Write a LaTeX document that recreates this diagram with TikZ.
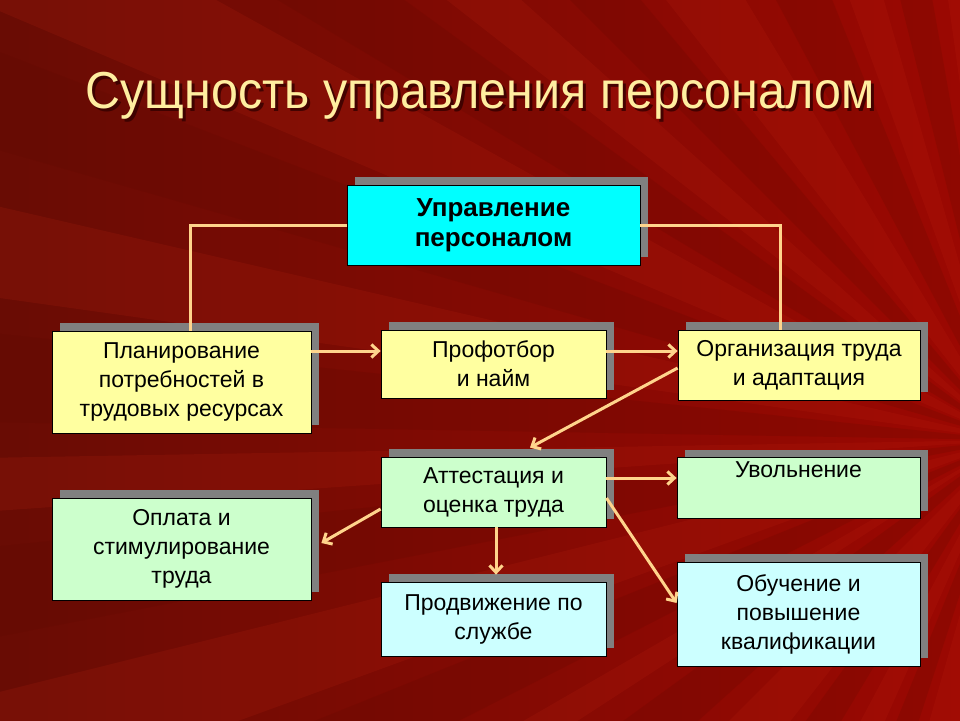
\documentclass[tikz,border=0pt]{standalone}
\usepackage{fontspec}
\setmainfont{Liberation Sans}
\newfontfamily\titlefont[FakeStretch=0.93]{Liberation Sans}
\usetikzlibrary{shadows,arrows.meta}

\definecolor{bgleft}{RGB}{105,12,4}
\definecolor{bgright}{RGB}{155,8,2}
\definecolor{raylight}{RGB}{200,40,20}
\definecolor{raydark}{RGB}{90,8,0}
\definecolor{titlecol}{RGB}{255,238,160}
\definecolor{headcol}{RGB}{0,255,255}
\definecolor{planbox}{RGB}{255,255,160}
\definecolor{markbox}{RGB}{204,255,204}
\definecolor{growbox}{RGB}{204,255,255}
\definecolor{boxshadow}{RGB}{128,128,128}
\definecolor{linkcol}{RGB}{255,212,140}

\tikzset{
  box/.style={draw=black, line width=0.8pt, inner sep=0pt, align=center,
    font=\fontsize{23}{29}\selectfont,
    drop shadow={shadow xshift=8pt, shadow yshift=8pt, fill=boxshadow, opacity=1}},
  link/.style={draw=linkcol, line width=3pt},
  arr/.style={link, -{Straight Barb[length=7pt,width=13pt]}}
}

\begin{document}
\begin{tikzpicture}[x=1pt,y=-1pt]
  % background with rays
  \shade[left color=bgleft, right color=bgright] (0,0) rectangle (960,720);
  \begin{scope}
    \clip (0,0) rectangle (960,720);
    \foreach \a/\b in {100/106,114/118,128/135,147/150,160/166,176/179,188/193,203/209,218/222,232/239,250/254,262/268}
      \fill[raylight, opacity=0.15] (1010,440) -- +(\a:1800) -- +(\b:1800) -- cycle;
    \foreach \a/\b in {108/112,121/126,138/144,153/158,169/174,181/186,196/201,211/216,225/230,242/248,256/260}
      \fill[raydark, opacity=0.18] (1010,440) -- +(\a:1800) -- +(\b:1800) -- cycle;
  \end{scope}
  \useasboundingbox (0,0) rectangle (960,720);

  % title
  \node[anchor=base, text=black!80!red, opacity=0.8, font=\titlefont\fontsize{52}{60}\selectfont] (titleshadow) at (483,111) {Сущность управления персоналом};
  \node[anchor=base, text=titlecol, font=\titlefont\fontsize{52}{60}\selectfont] (title) at (480,108) {Сущность управления персоналом};

  % boxes
  \node[box, fill=headcol, minimum width=293, minimum height=80, font=\bfseries\fontsize{26}{30}\selectfont] (upr) at (493.5,225) {Управление\\персоналом};
  \node[box, fill=planbox, minimum width=259, minimum height=102] (plan) at (181.5,382) {Планирование\\потребностей в\\трудовых ресурсах};
  \node[box, fill=planbox, minimum width=225, minimum height=68] (prof) at (493.5,364) {Профотбор\\и найм};
  \node[box, fill=planbox, minimum width=242, minimum height=70] (org) at (799,365) {Организация труда\\и адаптация};
  \node[box, fill=markbox, minimum width=225, minimum height=70] (att) at (493.5,492) {Аттестация и\\оценка труда};
  \node[box, fill=markbox, minimum width=243, minimum height=61] (uvol) at (798.5,488) {Увольнение\\\strut};
  \node[box, fill=markbox, minimum width=259, minimum height=102] (opl) at (181.5,549) {Оплата и\\стимулирование\\труда};
  \node[box, fill=growbox, minimum width=225, minimum height=74] (prod) at (493.5,619) {Продвижение по\\службе};
  \node[box, fill=growbox, minimum width=243, minimum height=104] (obuch) at (798.5,614) {Обучение и\\повышение\\квалификации};

  % connectors
  \draw[link] (upr.west) -| ([xshift=8.5pt]plan.north);
  \draw[link] (upr.east) -| ([xshift=-19pt]org.north);
  \draw[arr] ([yshift=31pt]plan.east) -- ([yshift=13pt]prof.west);
  \draw[arr] ([yshift=13pt]prof.east) -- ([yshift=14pt]org.west);
  \draw[arr] ([yshift=-3pt]org.west) -- ([xshift=36.5pt,yshift=9pt]att.north);
  \draw[arr] ([yshift=14pt]att.east) -- ([yshift=10pt]uvol.west);
  \draw[arr] ([yshift=-17pt]att.west) -- ([xshift=10pt,yshift=6pt]opl.east);
  \draw[arr] ([xshift=2.5pt]att.south) -- ([xshift=2.5pt,yshift=7pt]prod.north);
  \draw[arr] ([yshift=-6pt]att.east) -- ([yshift=11pt]obuch.west);
\end{tikzpicture}
\end{document}
